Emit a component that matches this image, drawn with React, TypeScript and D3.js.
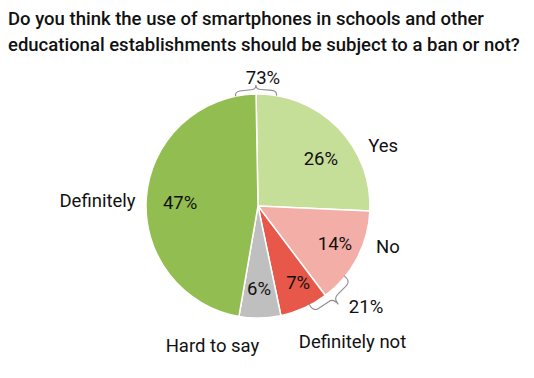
import React from "react";
import * as d3 from "d3";

const categories = ["Yes", "No", "Definitely not", "Hard to say", "Definitely"];
const values = [26, 14, 7, 6, 47];
const valueLabels = ["26%", "14%", "7%", "6%", "47%"];
const colors = ["#c5df99", "#f4aea8", "#e7584a", "#bfbfbf", "#92bd50"];
const titleLines = [
  "Do you think the use of smartphones in schools and other",
  "educational establishments should be subject to a ban or not?",
];
// grouped totals shown with braces
const groupLabels = ["73%", "21%"];

// layout (polar positions: angle in degrees from 12 o'clock, radius in px)
const W = 534;
const H = 378;
const cx = 258;
const cy = 206;
const R = 112;
const startDeg = -1;
const innerLabelPolar = [
  [52.7, 79],
  [115.7, 85.4],
  [152.2, 86],
  [179.3, 83],
  [272.2, 78],
];
const outerLabelPolar = [
  [64.2, 139],
  [107.3, 136],
  [145.2, 165.6],
  [198.1, 146.5],
  [272, 160.6],
];
const braces = [
  { a0: -11.5, a1: 9.5, r0: 112, r1: 116.5, r2: 121, label: [2.2, 128.1] },
  { a0: 129, a1: 152.5, r0: 111, r1: 119, r2: 127, label: [132.9, 147.5] },
];

const rad = (d: number) => (d * Math.PI) / 180;
const polar = (deg: number, r: number): [number, number] => [
  cx + r * Math.sin(rad(deg)),
  cy - r * Math.cos(rad(deg)),
];

function bracePath(a0: number, a1: number, r0: number, r1: number, r2: number) {
  const am = (a0 + a1) / 2;
  const d = (a1 - a0) * 0.12;
  const p = (a: number, r: number) => polar(a, r).join(",");
  return [
    `M${p(a0, r0)}`,
    `Q${p(a0, r1)} ${p(a0 + d, r1)}`,
    `L${p(am - d, r1)}`,
    `Q${p(am, r1)} ${p(am, r2)}`,
    `Q${p(am, r1)} ${p(am + d, r1)}`,
    `L${p(a1 - d, r1)}`,
    `Q${p(a1, r1)} ${p(a1, r0)}`,
  ].join(" ");
}

export default function App() {
  const pie = d3
    .pie<number>()
    .sort(null)
    .value((d) => d)
    .startAngle(rad(startDeg))
    .endAngle(rad(startDeg + 360));
  const arcs = pie(values);
  const arc = d3.arc<d3.PieArcDatum<number>>().innerRadius(0).outerRadius(R);

  const font = "Roboto, 'Noto Sans', sans-serif";
  return (
    <svg
      width={W}
      height={H}
      style={{ position: "absolute", left: 0, top: 0, background: "#fff" }}
      fontFamily={font}
    >
      {titleLines.map((t, i) => (
        <text key={i} x={8} y={25 + i * 25.5} fontSize={18.5} fontWeight={500} fill="#111">
          {t}
        </text>
      ))}
      <g transform={`translate(${cx},${cy})`}>
        {arcs.map((a, i) => (
          <path key={i} d={arc(a) || ""} fill={colors[i]} stroke="#fff" strokeWidth={1.5} />
        ))}
      </g>
      {arcs.map((a, i) => {
        const [x, y] = polar(innerLabelPolar[i][0], innerLabelPolar[i][1]);
        return (
          <text key={i} x={x} y={y} dy="0.35em" textAnchor="middle" fontSize={18.5} fill="#111">
            {valueLabels[i]}
          </text>
        );
      })}
      {categories.map((c, i) => {
        const [x, y] = polar(outerLabelPolar[i][0], outerLabelPolar[i][1]);
        return (
          <text key={c} x={x} y={y} dy="0.35em" textAnchor="middle" fontSize={18.5} fill="#111">
            {c}
          </text>
        );
      })}
      {braces.map((b, i) => {
        const [x, y] = polar(b.label[0], b.label[1]);
        return (
          <g key={i}>
            <path d={bracePath(b.a0, b.a1, b.r0, b.r1, b.r2)} fill="none" stroke="#8c8c8c" strokeWidth={1.1} />
            <text x={x} y={y} dy="0.35em" textAnchor="middle" fontSize={18.5} fill="#111">
              {groupLabels[i]}
            </text>
          </g>
        );
      })}
    </svg>
  );
}
